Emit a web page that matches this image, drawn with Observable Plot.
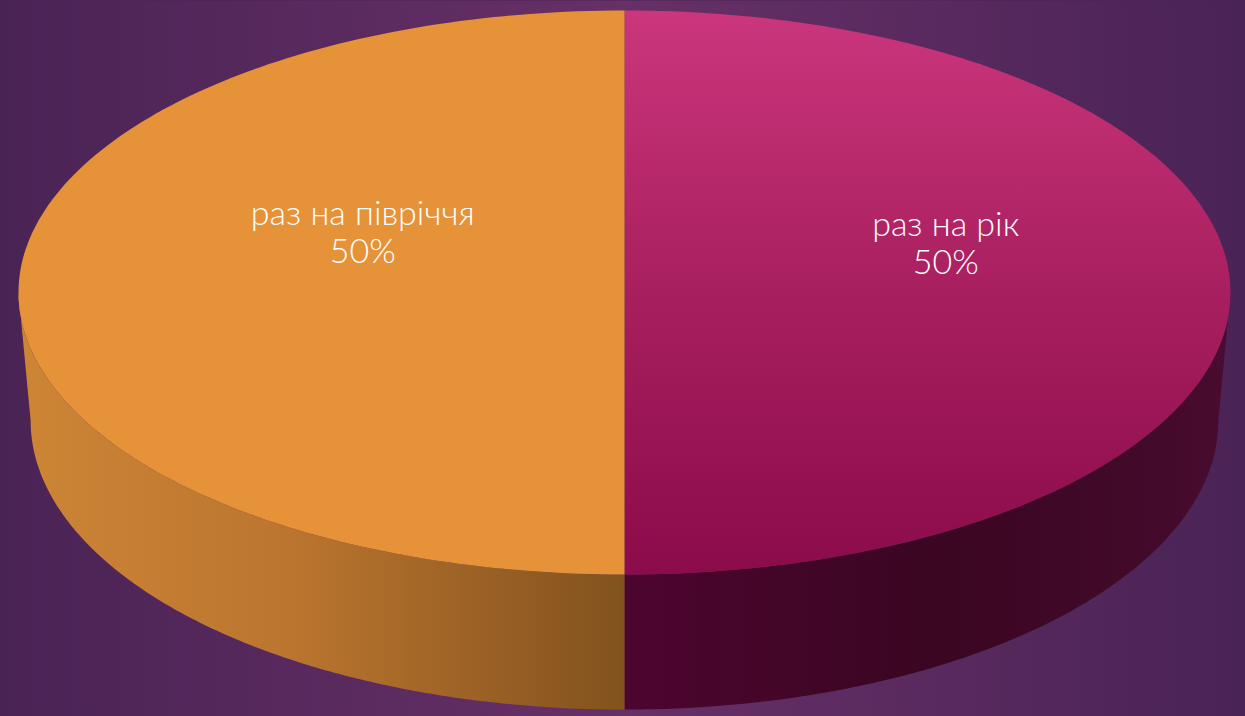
<!DOCTYPE html>
<html><head><meta charset="utf-8">
<script src="https://cdn.jsdelivr.net/npm/d3@7"></script>
<script src="https://cdn.jsdelivr.net/npm/@observablehq/plot@0.6"></script>
<style>html,body{margin:0;padding:0;background:#4a2355;overflow:hidden}</style>
</head><body><div id="chart"></div>
<script>
// ---- data ----
const categories = ["раз на рік", "раз на півріччя"];
const values = [50, 50];
const percentLabels = ["50%", "50%"];

// ---- styling ----
const topFills = ["url(#gTopR)", "#E59239"];
const sideFills = ["url(#gSideR)", "url(#gSideL)"];

// ---- 3D projection parameters (unit circle -> ellipses) ----
const bottomScaleX = 0.98, bottomOffsetY = 0.454, bottomScaleY = 1.025;
const STEPS = 160;
const labelR = 0.481, labelShiftX = 0.049, labelLift = -0.195, labelTilt = 0.019;

const arcs = d3.pie().sort(null).value(d => d)(values); // 0 rad at 12 o'clock, clockwise
const topPt = t => ({x: Math.sin(t), y: -Math.cos(t)});
const botPt = t => ({x: bottomScaleX * Math.sin(t), y: bottomOffsetY - bottomScaleY * Math.cos(t)});
const samples = (a, b) => d3.range(STEPS + 1).map(i => a + (b - a) * i / STEPS);

const tops = arcs.map(a => [{x: 0, y: 0}, ...samples(a.startAngle, a.endAngle).map(topPt), {x: 0, y: 0}]);
const sides = arcs.map(a => {
  const s = Math.max(a.startAngle, Math.PI / 2), e = Math.min(a.endAngle, 3 * Math.PI / 2);
  if (e <= s) return [];
  return [...samples(s, e).map(topPt), ...samples(s, e).reverse().map(botPt)];
});
const front = samples(Math.PI / 2, 3 * Math.PI / 2);
const silhouette = [...front.map(topPt), ...front.slice().reverse().map(botPt)];

const labels = arcs.map((a, i) => {
  const m = (a.startAngle + a.endAngle) / 2;
  return {
    x: labelR * Math.sin(m) + labelShiftX,
    y: -labelR * Math.cos(m) + labelLift + labelTilt * Math.sin(m),
    text: categories[i] + "\n" + percentLabels[i]
  };
});

const marks = [
  Plot.frame({fill: "url(#gBg)", stroke: null}),
  Plot.line(silhouette.map(p => ({x: p.x, y: p.y + 0.012})), {x: "x", y: "y", fill: "#1a0a1f", stroke: null, ariaLabel: "shadow"}),
];
arcs.forEach((a, i) => {
  if (sides[i].length) marks.push(Plot.line(sides[i], {x: "x", y: "y", fill: sideFills[i], stroke: null}));
});
arcs.forEach((a, i) => {
  marks.push(Plot.line(tops[i], {x: "x", y: "y", fill: topFills[i], stroke: null}));
});
marks.push(Plot.text(labels, {
  x: "x", y: "y", text: "text", fill: "white", fontSize: 34, fontWeight: 300,
  fontFamily: "Lato, 'Noto Sans', sans-serif", lineHeight: 1.12, lineAnchor: "middle"
}));

const svg = Plot.plot({
  width: 1245, height: 716,
  margin: 0,
  x: {domain: [-1, 1], range: [18, 1230], axis: null},
  y: {domain: [-1, 1], range: [10, 574], axis: null},
  style: {background: "transparent", overflow: "visible"},
  marks
});

const defs = d3.select(svg).insert("defs", ":first-child");
function lin(id, stops, vertical) {
  const g = defs.append("linearGradient").attr("id", id)
    .attr("x1", 0).attr("y1", 0).attr("x2", vertical ? 0 : 1).attr("y2", vertical ? 1 : 0);
  stops.forEach(([o, c]) => g.append("stop").attr("offset", o).attr("stop-color", c));
}
lin("gBg", [[0, "#4a2355"], [0.5, "#673067"], [1, "#4a2356"]], false);
lin("gTopR", [[0, "#cb367c"], [0.5, "#a81f5f"], [1, "#8b0b4b"]], true);
lin("gSideL", [[0, "#cd8535"], [0.45, "#bb752f"], [1, "#82521e"]], false);
lin("gSideR", [[0, "#4d0530"], [0.5, "#3a0621"], [0.9, "#440a2b"], [1, "#4a0c30"]], false);
const f = defs.append("filter").attr("id", "blur").attr("x", "-10%").attr("y", "-10%").attr("width", "120%").attr("height", "130%");
f.append("feGaussianBlur").attr("stdDeviation", 6);
d3.select(svg).select('g[aria-label="shadow"]').attr("filter", "url(#blur)");

document.getElementById("chart").appendChild(svg);
</script>
</body></html>
